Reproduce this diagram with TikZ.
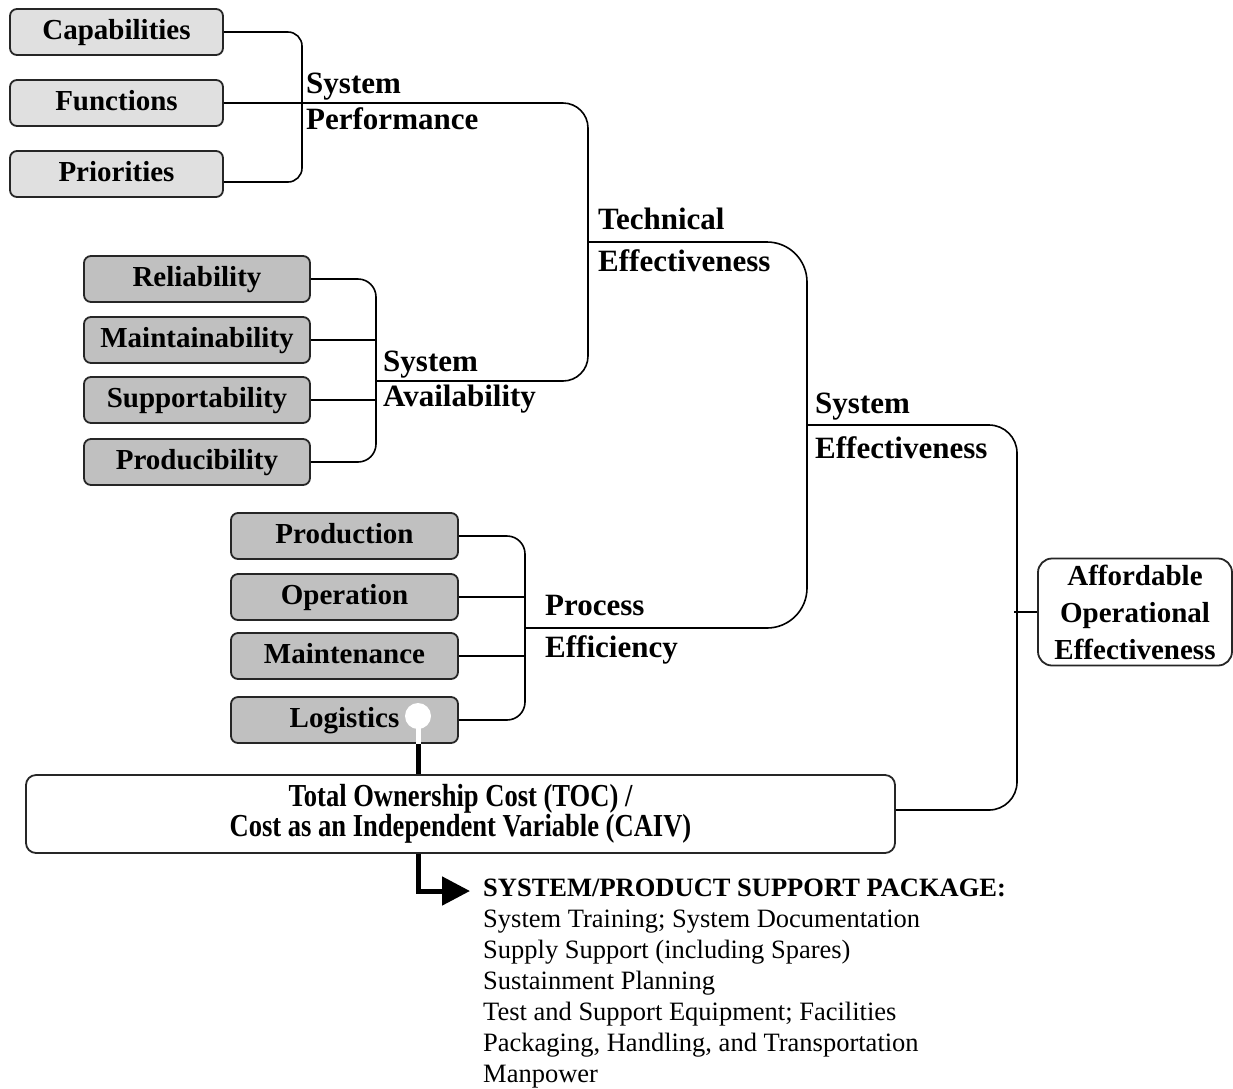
\documentclass[tikz,border=0pt]{standalone}
\usepackage{fontspec}
\setmainfont{Liberation Serif}
\newfontfamily\boxfont{Liberation Serif Bold}
\newfontfamily\tocfont{Liberation Serif Bold}[FakeStretch=0.83]
\usetikzlibrary{arrows.meta}
\definecolor{boxlight}{HTML}{E0E0E0}
\definecolor{boxdark}{HTML}{C0C0C0}
\tikzset{
  fbox/.style={draw=black!85, line width=1.8pt, rounded corners=7pt, inner sep=0pt,
    minimum height=46pt, font=\boxfont\fontsize{29}{34}\selectfont,
    text height=20pt, text depth=6pt},
  lightbox/.style={fbox, fill=boxlight, minimum width=213pt},
  availbox/.style={fbox, fill=boxdark, minimum width=226pt},
  procbox/.style={fbox, fill=boxdark, minimum width=227pt},
  conn/.style={line width=1.6pt, black},
  lbl/.style={anchor=base west, inner sep=0pt, font=\bfseries\fontsize{31}{37}\selectfont},
}
\begin{document}
\begin{tikzpicture}[x=1pt, y=-1pt]
\useasboundingbox (0,0) rectangle (1233,1088);

% top group
\node[lightbox] (cap) at (116.5,32) {Capabilities};
\node[lightbox] (func) at (116.5,103) {Functions};
\node[lightbox] (pri) at (116.5,174) {Priorities};

% availability group
\node[availbox] (rel) at (197,279) {Reliability};
\node[availbox] (mnt) at (197,340) {Maintainability};
\node[availbox] (sup) at (197,400) {Supportability};
\node[availbox] (prd) at (197,462) {Producibility};

% process group
\node[procbox] (pro) at (344.5,536) {Production};
\node[procbox] (ope) at (344.5,597) {Operation};
\node[procbox] (mtc) at (344.5,656) {Maintenance};
\node[procbox] (lgs) at (344.5,720) {Logistics};

% TOC box
\node[draw=black!85, line width=1.8pt, rounded corners=10pt, fill=white, inner sep=0pt,
  minimum width=869pt, minimum height=78pt, align=center,
  font=\tocfont\fontsize{32}{29}\selectfont] (toc) at (460.5,814)
  {Total Ownership Cost (TOC) /\\Cost as an Independent Variable (CAIV)};

% Affordable box
\node[draw=black!85, line width=1.8pt, rounded corners=14pt, fill=white, inner sep=0pt,
  minimum width=194pt, minimum height=107pt, align=center,
  font=\boxfont\fontsize{29}{37}\selectfont] (aff) at (1135,612)
  {Affordable\\Operational\\Effectiveness};

% labels
\node[lbl] (sp1) at (306,93) {System};
\node[lbl] (sp2) at (306,129) {Performance};
\node[lbl] (te1) at (598,229) {Technical};
\node[lbl] (te2) at (598,271) {Effectiveness};
\node[lbl] (sa1) at (383,371) {System};
\node[lbl] (sa2) at (383,406) {Availability};
\node[lbl] (se1) at (815,413) {System};
\node[lbl] (se2) at (815,458) {Effectiveness};
\node[lbl] (pe1) at (545,615) {Process};
\node[lbl] (pe2) at (545,657) {Efficiency};

% coordinates for buses
\coordinate (b1a) at (302,32);
\coordinate (b1b) at (302,182);
\coordinate (spA) at (588,103);
\coordinate (spB) at (588,381);
\coordinate (b2m) at (376,381);
\coordinate (b2a) at (376,279);
\coordinate (b2b) at (376,462);
\coordinate (teA) at (588,242);
\coordinate (teB) at (807,242);
\coordinate (teC) at (807,628);
\coordinate (b3m) at (525,628);
\coordinate (b3a) at (525,536);
\coordinate (b3b) at (525,720);
\coordinate (seA) at (807,425);
\coordinate (seB) at (1017,425);
\coordinate (seC) at (1017,810);
\coordinate (afA) at (1014,612);

% top bracket
\draw[conn, rounded corners=14pt] (cap.east) -- (b1a) -- (b1b) -- (pri.east |- b1b);
% system performance
\draw[conn, rounded corners=25pt] (func.east) -- (spA) -- (spB) -- (b2m);
% availability bracket
\draw[conn, rounded corners=18pt] (rel.east) -- (b2a) -- (b2b) -- (prd.east);
\draw[conn] (mnt.east) -- (mnt.east -| b2a);
\draw[conn] (sup.east) -- (sup.east -| b2a);
% technical effectiveness
\draw[conn, rounded corners=40pt] (teA) -- (teB) -- (teC) -- (b3m);
% process bracket
\draw[conn, rounded corners=18pt] (pro.east) -- (b3a) -- (b3b) -- (lgs.east);
\draw[conn] (ope.east) -- (ope.east -| b3a);
\draw[conn] (mtc.east) -- (mtc.east -| b3a);
% system effectiveness
\draw[conn, rounded corners=28pt] (seA) -- (seB) -- (seC) -- (toc.east |- seC);
% affordable
\draw[conn] (afA) -- (aff.west |- afA);

% logistics link
\node[circle, fill=white, minimum size=26pt, inner sep=0pt] (dot) at (418,716) {};
\draw[white, line width=5pt] (dot.center) -- (dot.center |- lgs.south);
\draw[line width=5pt] (dot.center |- lgs.south) -- (dot.center |- toc.north);

% arrow to package
\coordinate (tip) at (470,891);
\draw[line width=5pt, -{Triangle[length=28pt,width=28pt]}] (dot.center |- toc.south) |- (tip);

% package text
\node[anchor=north west, inner sep=0pt, align=left, font=\fontsize{26.5}{31}\selectfont] (pkg) at (483,879)
  {\textbf{SYSTEM/PRODUCT SUPPORT PACKAGE:}\\
   System Training; System Documentation\\
   Supply Support (including Spares)\\
   Sustainment Planning\\
   Test and Support Equipment; Facilities\\
   Packaging, Handling, and Transportation\\
   Manpower};
\end{tikzpicture}
\end{document}
